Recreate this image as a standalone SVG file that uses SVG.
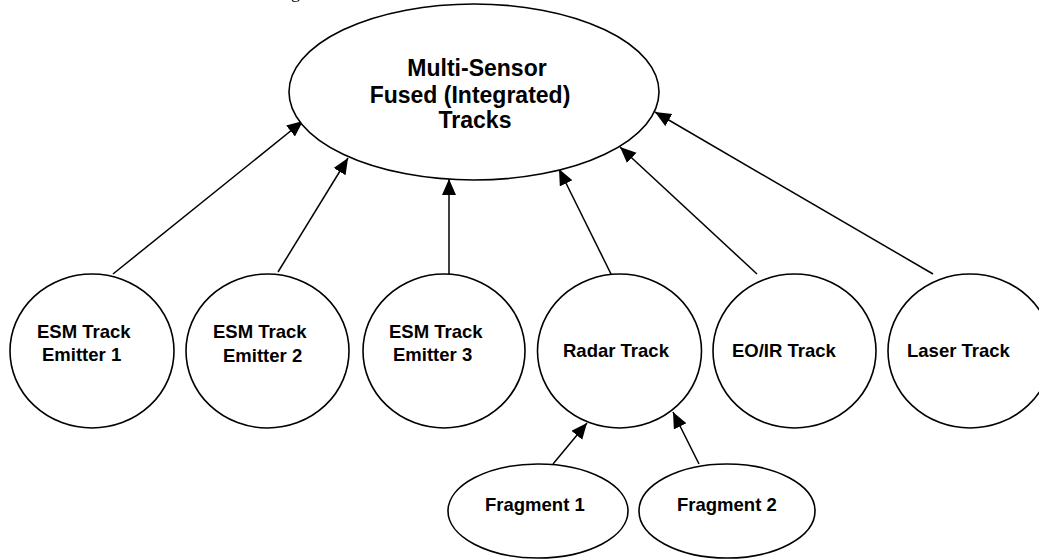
<svg xmlns="http://www.w3.org/2000/svg" width="1039" height="560" viewBox="0 0 1039 560">
  <style>
    .node { fill: #ffffff; stroke: #000000; stroke-width: 1.6; }
    .lbl { font-family: "Liberation Sans", Arial, sans-serif; font-weight: bold; font-size: 18.5px; fill: #000000; }
    .title { font-family: "Liberation Sans", Arial, sans-serif; font-weight: bold; font-size: 23px; fill: #000000; text-anchor: middle; }
    .edge { stroke: #000000; stroke-width: 1.5; fill: none; marker-end: url(#head); }
  </style>
  <defs>
    <marker id="head" markerUnits="userSpaceOnUse" markerWidth="17" markerHeight="15" refX="16" refY="7" orient="auto">
      <path d="M0,0 L16,7 L0,14 Z" fill="#000000"/>
    </marker>
  </defs>
  <rect width="1039" height="560" fill="#ffffff"/>

  <!-- caption line running off the top edge; only a descender stays on the page -->
  <text x="291" y="-2" font-family="'Liberation Serif', 'Times New Roman', serif" font-size="18">g</text>

  <g id="connectors">
    <line class="edge" x1="113" y1="274" x2="303" y2="121"/>
    <line class="edge" x1="278" y1="272" x2="348" y2="158"/>
    <line class="edge" x1="449" y1="274" x2="449" y2="179"/>
    <line class="edge" x1="611" y1="274" x2="559" y2="169"/>
    <line class="edge" x1="757" y1="274" x2="620" y2="147"/>
    <line class="edge" x1="933" y1="274" x2="655" y2="112"/>
    <line class="edge" x1="553" y1="464" x2="587" y2="423"/>
    <line class="edge" x1="699" y1="464" x2="673" y2="412"/>
  </g>

  <g id="fused">
    <ellipse class="node" cx="474" cy="92" rx="185" ry="88"/>
    <text class="title" x="477" y="76">Multi-Sensor</text>
    <text class="title" x="470" y="103">Fused (Integrated)</text>
    <text class="title" x="475" y="128">Tracks</text>
  </g>

  <g id="esm1">
    <ellipse class="node" cx="92" cy="351" rx="82" ry="77"/>
    <text class="lbl" x="37" y="338">ESM Track</text>
    <text class="lbl" x="42" y="361">Emitter 1</text>
  </g>

  <g id="esm2">
    <ellipse class="node" cx="267.5" cy="351" rx="81.5" ry="77"/>
    <text class="lbl" x="213" y="338">ESM Track</text>
    <text class="lbl" x="223" y="362">Emitter 2</text>
  </g>

  <g id="esm3">
    <ellipse class="node" cx="444" cy="351" rx="81" ry="77"/>
    <text class="lbl" x="389" y="338">ESM Track</text>
    <text class="lbl" x="393" y="361">Emitter 3</text>
  </g>

  <g id="radar">
    <ellipse class="node" cx="619.5" cy="351" rx="82" ry="77"/>
    <text class="lbl" x="563" y="357">Radar Track</text>
  </g>

  <g id="eoir">
    <ellipse class="node" cx="794.5" cy="351" rx="81.5" ry="77"/>
    <text class="lbl" x="732" y="357">EO/IR Track</text>
  </g>

  <g id="laser">
    <ellipse class="node" cx="970" cy="351" rx="82" ry="77"/>
    <text class="lbl" x="907" y="357">Laser Track</text>
  </g>

  <g id="fragment1">
    <ellipse class="node" cx="538" cy="511" rx="90" ry="47"/>
    <text class="lbl" x="485" y="511">Fragment 1</text>
  </g>

  <g id="fragment2">
    <ellipse class="node" cx="727" cy="511" rx="88" ry="47"/>
    <text class="lbl" x="677" y="511">Fragment 2</text>
  </g>
</svg>
